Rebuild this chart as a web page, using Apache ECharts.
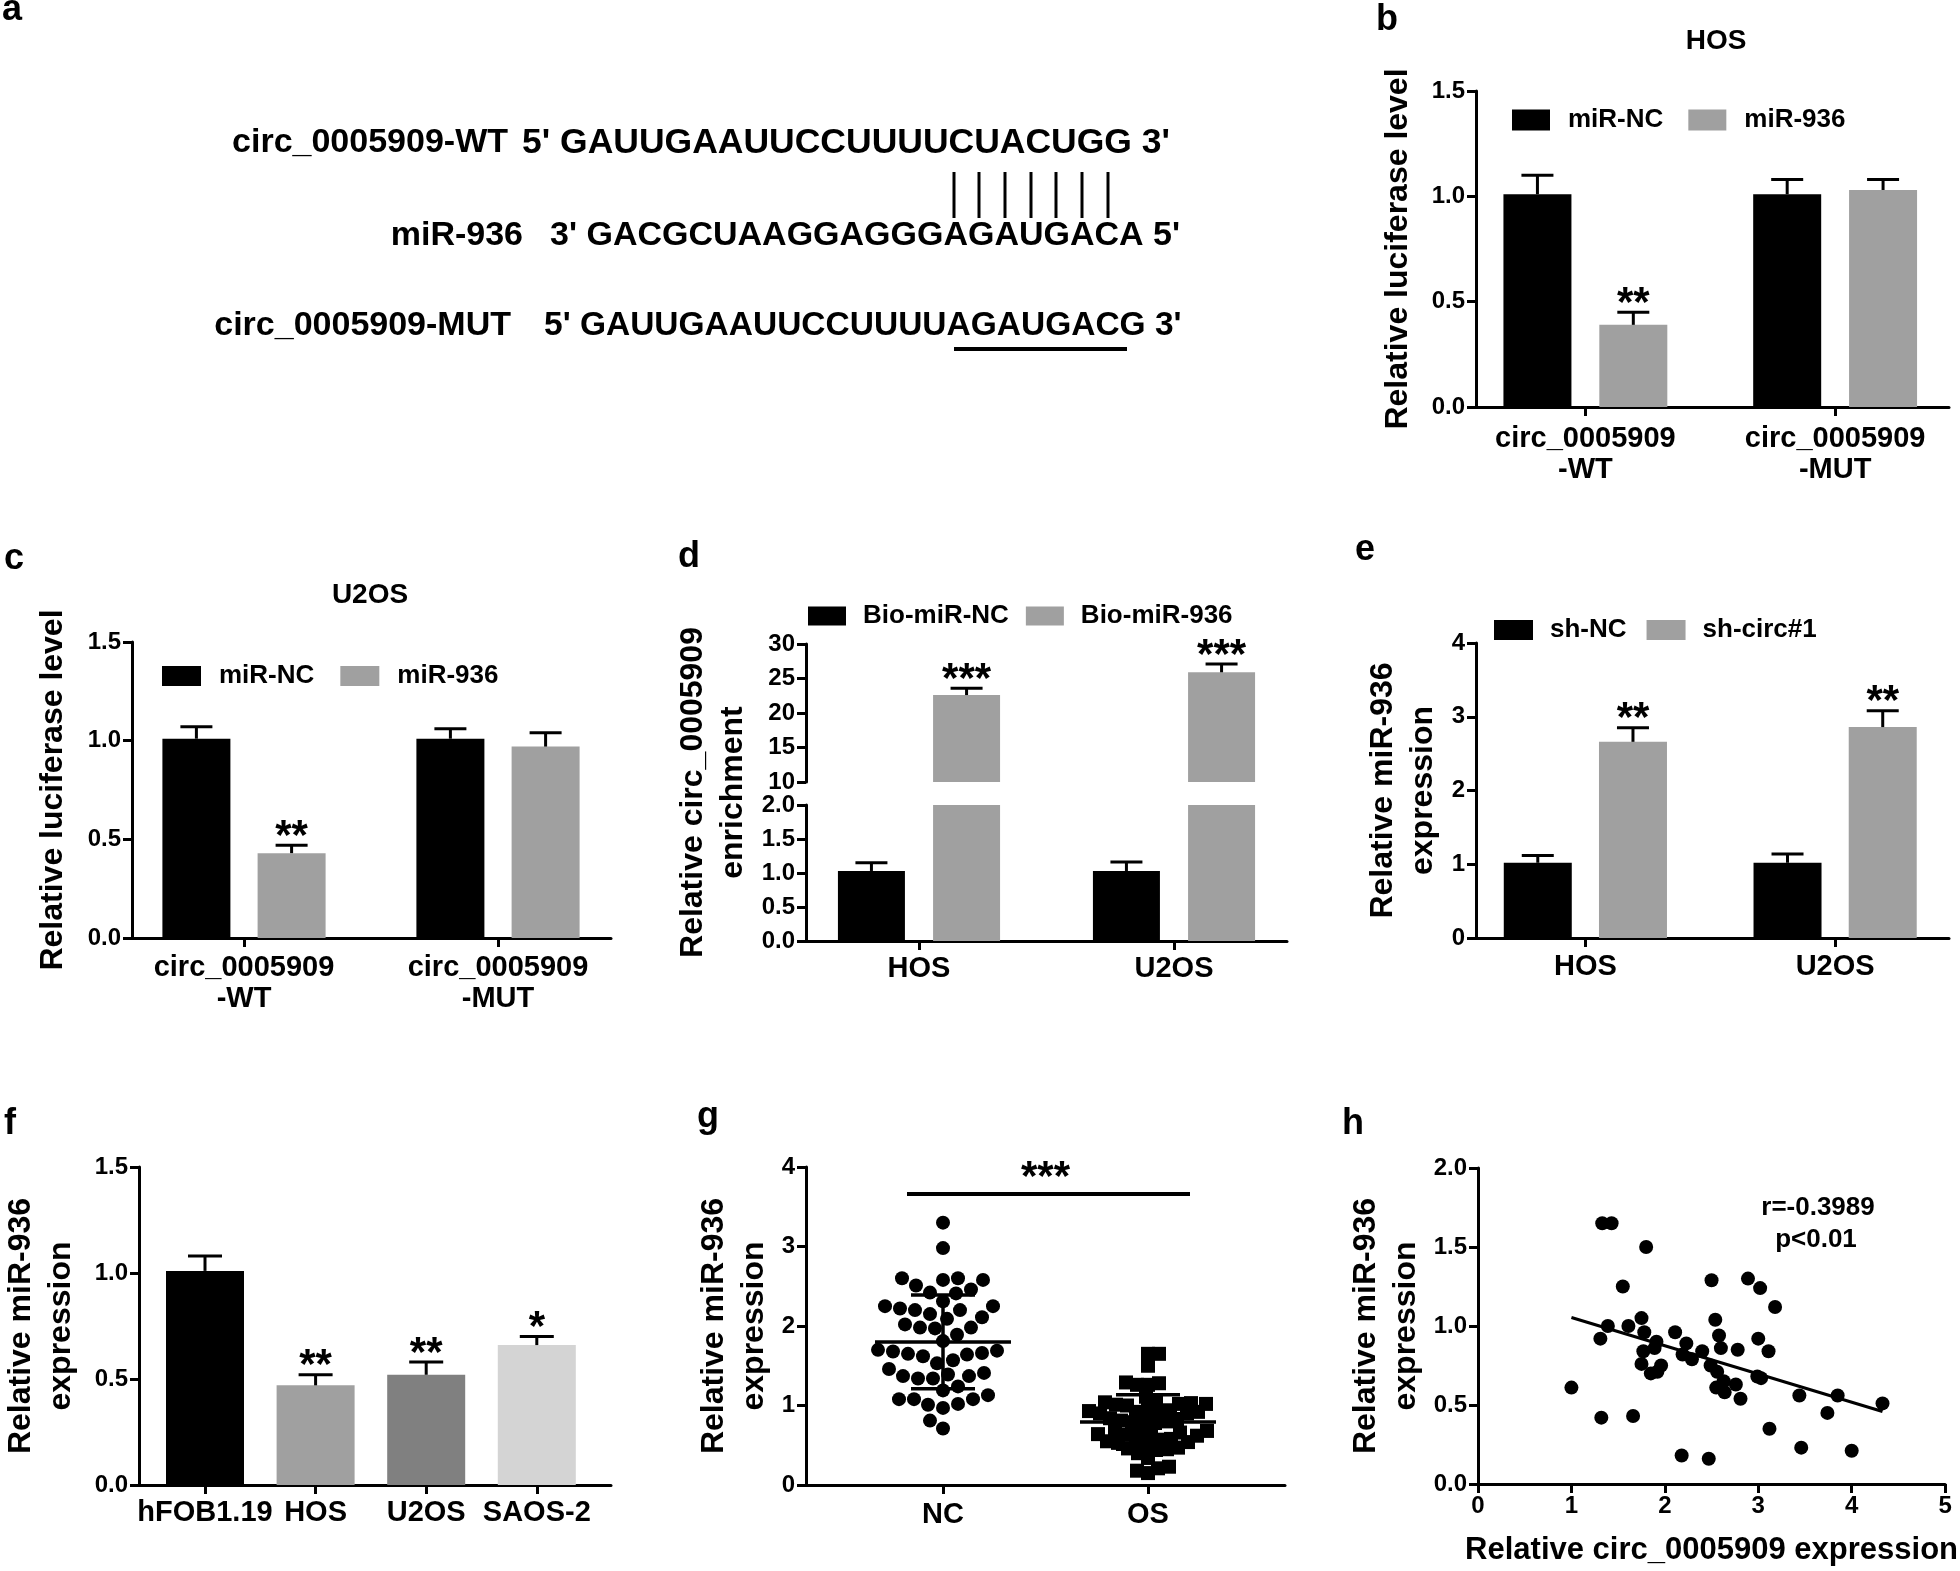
<!DOCTYPE html>
<html><head><meta charset="utf-8">
<script src="https://cdn.jsdelivr.net/npm/echarts@6/dist/echarts.min.js"></script>
<style>html,body{margin:0;padding:0;background:#fff}#c{width:1960px;height:1571px}</style>
</head><body><div id="c"></div>
<script>
// ================= DATA =================
// panel a
const seqNames = ['circ_0005909-WT', 'miR-936', 'circ_0005909-MUT'];
const seqStrings = ["5' GAUUGAAUUCCUUUUCUACUGG 3'", "3' GACGCUAAGGAGGGAGAUGACA 5'", "5' GAUUGAAUUCCUUUUAGAUGACG 3'"];
// panel b (HOS luciferase)
const bCats = ['circ_0005909\n-WT', 'circ_0005909\n-MUT'];
const bNC = [1.01, 1.01], bNCerr = [0.09, 0.07];
const b936 = [0.39, 1.03], b936err = [0.06, 0.05];
const bStars = ['**', ''];
// panel c (U2OS luciferase)
const cCats = ['circ_0005909\n-WT', 'circ_0005909\n-MUT'];
const cNC = [1.01, 1.01], cNCerr = [0.06, 0.05];
const c936 = [0.43, 0.97], c936err = [0.04, 0.07];
const cStars = ['**', ''];
// panel d (pull-down)
const dCats = ['HOS', 'U2OS'];
const dNC = [1.03, 1.03], dNCerr = [0.12, 0.13];
const d936 = [22.6, 25.9], d936err = [1.0, 1.2];
const dStars = ['***', '***'];
// panel e
const eCats = ['HOS', 'U2OS'];
const eNC = [1.02, 1.02], eNCerr = [0.10, 0.12];
const eSh = [2.66, 2.86], eSherr = [0.19, 0.22];
const eStars = ['**', '**'];
// panel f
const fCats = ['hFOB1.19', 'HOS', 'U2OS', 'SAOS-2'];
const fVals = [1.01, 0.47, 0.52, 0.66];
const fErr = [0.07, 0.05, 0.06, 0.04];
const fStars = ['', '**', '**', '*'];
// panel g
const gCats = ['NC', 'OS'];
const gNC = [3.30, 2.98, 2.60, 2.58, 2.58, 2.60, 2.51, 2.46, 2.42, 2.41, 2.31, 2.25, 2.22, 2.20, 2.25, 2.20,
  2.15, 2.09, 2.11, 1.98, 1.97, 1.98, 2.02, 1.89, 1.81, 1.69, 1.66, 1.64, 1.57, 1.53, 1.62, 1.65, 1.68, 1.70,
  1.41, 1.37, 1.34, 1.34, 1.37, 1.39, 1.46, 1.24, 1.19, 1.08, 1.08, 1.01, 0.97, 1.02, 1.08, 1.13, 0.81, 0.71];
const gOS = [1.65, 1.65, 1.50, 1.28, 1.26, 1.26, 1.29, 1.11,
  1.04, 1.03, 1.02, 1.01, 1.00, 1.02, 1.05,
  0.94, 0.92, 0.91, 0.90, 0.90, 0.92, 0.93, 0.95,
  0.84, 0.82, 0.80, 0.78, 0.79, 0.81, 0.83,
  0.68, 0.66, 0.64, 0.62, 0.63, 0.65, 0.67, 0.69,
  0.58, 0.56, 0.54, 0.52, 0.53, 0.55, 0.57,
  0.47, 0.45, 0.44, 0.46, 0.40, 0.34, 0.21, 0.15, 0.18, 0.23];
const gSigY = 3.66, gSigStars = '***';
// panel h
const hX = [1.00,1.31,1.33,1.43,1.39,1.32,1.55,1.61,1.66,1.80,1.75,1.78,1.77,1.75,1.91,1.89,1.85,1.92,1.96,2.11,
  2.23,2.19,2.29,2.40,2.18,2.47,2.50,2.54,2.49,2.58,2.60,2.56,2.55,2.63,2.64,2.78,2.76,2.81,2.89,3.02,
  3.00,2.99,3.03,3.11,3.18,3.12,3.44,3.46,3.74,3.85,4.00,4.33];
const hY = [0.61,0.92,1.65,1.65,1.00,0.42,1.25,1.00,0.43,1.50,1.05,0.96,0.84,0.76,0.90,0.86,0.70,0.71,0.75,0.96,
  0.89,0.82,0.79,0.84,0.18,0.16,1.29,1.04,0.75,0.94,0.86,0.71,0.61,0.65,0.58,0.85,0.63,0.54,1.30,1.24,
  0.92,0.68,0.67,0.84,1.12,0.35,0.56,0.23,0.45,0.56,0.21,0.51];
const hR = 'r=-0.3989', hP = 'p<0.01';

// ================= STYLE / BUILD =================
const FONT = "'Liberation Sans', Arial, Helvetica, sans-serif";
const BLACK = '#000000', GRAY = '#a0a0a0';
const fColors = ['#000000', '#a0a0a0', '#808080', '#d4d4d4'];
const f1 = v => v.toFixed(1), f0 = v => String(Math.round(v));

const grids = [], xs = [], ys = [], series = [], legends = [], gfx = [];
function G(left, top, width, height) { grids.push({left, top, width, height, containLabel: false}); return grids.length - 1; }
function X(o) { xs.push(o); return xs.length - 1; }
function Y(o) { ys.push(o); return ys.length - 1; }
const lineSt = {color: '#000', width: 3};
function nameStyle(fs) { return {color: '#000', fontSize: fs || 32, fontWeight: 'bold', fontFamily: FONT, lineHeight: 40}; }
function yVis(g, min, max, interval, fmt, name, gap) {
  return {type: 'value', gridIndex: g, min, max, interval, position: 'left',
    axisLine: {show: true, onZero: false, lineStyle: lineSt},
    axisTick: {show: true, length: 9, lineStyle: lineSt},
    axisLabel: {color: '#000', fontSize: 24, fontWeight: 'bold', fontFamily: FONT, margin: 11, formatter: fmt},
    splitLine: {show: false},
    name: name || '', nameLocation: 'middle', nameGap: gap || 0, nameRotate: 90, nameTextStyle: nameStyle()};
}
function yHid(g, min, max) { return {type: 'value', gridIndex: g, min, max, show: false}; }
function xLine(g) {
  return {type: 'value', gridIndex: g, min: 0, max: 1, position: 'bottom', axisLine: {show: true, onZero: false, lineStyle: lineSt},
    axisTick: {show: false}, axisLabel: {show: false}, splitLine: {show: false}};
}
function xHid(g) { return {type: 'value', gridIndex: g, min: 0, max: 1, show: false}; }
function xCat(g, data, fs, margin, lh) {
  return {type: 'category', gridIndex: g, data, position: 'bottom', axisLine: {show: false, onZero: false},
    axisTick: {show: true, alignWithLabel: true, length: 9, lineStyle: lineSt},
    axisLabel: {color: '#000', fontSize: fs, fontWeight: 'bold', fontFamily: FONT, margin, lineHeight: lh, interval: 0},
    splitLine: {show: false}};
}
function bar(name, xi, yi, data, color, w, gap) {
  return {type: 'bar', name, xAxisIndex: xi, yAxisIndex: yi, data, barWidth: w, barGap: gap,
    itemStyle: {color}, silent: true, clip: true};
}
function errS(xi, yi, means, errs, sIdx, nS, barW, gapR, stars, capHalf, keep) {
  const data = [];
  means.forEach((m, i) => { if (!keep || keep(m)) data.push([i, m, errs[i], i]); });
  return {type: 'custom', xAxisIndex: xi, yAxisIndex: yi, silent: true, z: 5, clip: false, data,
    renderItem(params, api) {
      const i = api.value(0), m = api.value(1), e = api.value(2), k = api.value(3);
      const base = api.coord([i, m]), top = api.coord([i, m + e]);
      const x = base[0] + (sIdx - (nS - 1) / 2) * barW * (1 + gapR);
      const ch = [
        {type: 'line', shape: {x1: x, y1: base[1], x2: x, y2: top[1]}, style: {stroke: '#000', lineWidth: 3}},
        {type: 'line', shape: {x1: x - capHalf, y1: top[1], x2: x + capHalf, y2: top[1]}, style: {stroke: '#000', lineWidth: 3}}
      ];
      const st = stars && stars[k];
      if (st) ch.push({type: 'text', x: x, y: top[1] - 8, style: {text: st, fill: '#000', font: 'bold 42px ' + FONT,
        align: 'center', verticalAlign: 'middle', textAlign: 'center', textVerticalAlign: 'middle'}});
      return {type: 'group', children: ch};
    }};
}
function leg(left, top, w, h, gap, pad, data) {
  return {left, top, padding: 0, itemWidth: w, itemHeight: h, itemGap: gap, icon: 'rect', data, selectedMode: false,
    textStyle: {color: '#000', fontSize: 26, fontWeight: 'bold', fontFamily: FONT, padding: [0, 0, 0, pad], lineHeight: h}};
}
function T(x, y, text, size, align) {
  gfx.push({type: 'text', x, y, silent: true, style: {text, fill: '#000', font: 'bold ' + size + 'px ' + FONT,
    align: align || 'left', verticalAlign: 'middle', textAlign: align || 'left', textVerticalAlign: 'middle'}});
}
function R(x, y, w, h) { gfx.push({type: 'rect', silent: true, shape: {x, y, width: w, height: h}, style: {fill: '#000'}}); }

// ---- panel letters & titles
[['a', 2, 10], ['b', 1376, 20], ['c', 4, 559], ['d', 678, 557], ['e', 1355, 550], ['f', 4, 1124], ['g', 697, 1117], ['h', 1342, 1124]]
  .forEach(l => T(l[1], l[2], l[0], 36, 'left'));
T(1716, 41, 'HOS', 28, 'center');
T(370, 595, 'U2OS', 28, 'center');

// ---- panel a
const aRowsY = [143, 236, 326];
const aLabelRight = [508, 523, 511];
const aSeqLeft = [522, 550, 544];
const aSeqSize = [35.5, 34, 33.5];
seqNames.forEach((s, i) => { T(aLabelRight[i], aRowsY[i], s, 34, 'right'); T(aSeqLeft[i], aRowsY[i], seqStrings[i], aSeqSize[i], 'left'); });
[954, 979, 1005, 1031, 1056, 1082, 1108].forEach(x => R(x - 1.5, 172, 3, 46));
R(954, 347, 173, 4);

// ---- panel b
{
  const ga = G(1476, 91, 473, 316); X(xLine(ga)); Y(yVis(ga, 0, 1.5, 0.5, f1, 'Relative luciferase level', 58));
  const gb = G(1460.5, 91, 510, 316);
  const xi = X(xCat(gb, bCats, 29, 16, 31)), yi = Y(yHid(gb, 0, 1.5));
  series.push(bar('miR-NC', xi, yi, bNC, BLACK, 68, '41%'), bar('miR-936', xi, yi, b936, GRAY, 68, '41%'));
  series.push(errS(xi, yi, bNC, bNCerr, 0, 2, 68, 0.41, null, 16), errS(xi, yi, b936, b936err, 1, 2, 68, 0.41, bStars, 16));
  legends.push(leg(1512, 107, 38, 21, 25, 13, ['miR-NC', 'miR-936']));
}
// ---- panel c
{
  const ga = G(132, 642, 479, 296); X(xLine(ga)); Y(yVis(ga, 0, 1.5, 0.5, f1, 'Relative luciferase level', 59));
  const gb = G(117, 642, 508, 296);
  const xi = X(xCat(gb, cCats, 29, 14, 31)), yi = Y(yHid(gb, 0, 1.5));
  series.push(bar('miR-NC', xi, yi, cNC, BLACK, 68, '40%'), bar('miR-936', xi, yi, c936, GRAY, 68, '40%'));
  series.push(errS(xi, yi, cNC, cNCerr, 0, 2, 68, 0.40, null, 16), errS(xi, yi, c936, c936err, 1, 2, 68, 0.40, cStars, 16));
  legends.push(leg(162, 663, 39, 20, 26, 13, ['miR-NC', 'miR-936']));
}
// ---- panel d (broken axis)
{
  const gf = G(806, 644, 481, 297); X(xLine(gf));
  Y({type: 'value', gridIndex: gf, min: 0, max: 1, axisLine: {show: false}, axisTick: {show: false}, axisLabel: {show: false},
    splitLine: {show: false}, name: 'Relative circ_0005909\nenrichment', nameLocation: 'middle', nameGap: 53, nameRotate: 90, nameTextStyle: nameStyle()});
  const gt = G(806, 644, 481, 138); X(xHid(gt)); Y(yVis(gt, 10, 30, 5, f0));
  const gl = G(806, 805, 481, 136); X(xHid(gl)); Y(yVis(gl, 0, 2, 0.5, f1));
  const gtb = G(791.5, 644, 510, 138);
  const xt = X({type: 'category', gridIndex: gtb, data: dCats, show: false}), yt = Y(yHid(gtb, 10, 30));
  const gbb = G(791.5, 805, 510, 136);
  const xb = X(xCat(gbb, dCats, 29, 12, 31)), yb = Y(yHid(gbb, 0, 2));
  series.push(bar('Bio-miR-NC', xt, yt, dNC, BLACK, 67, '42%'), bar('Bio-miR-936', xt, yt, d936, GRAY, 67, '42%'));
  series.push(bar('Bio-miR-NC', xb, yb, dNC, BLACK, 67, '42%'), bar('Bio-miR-936', xb, yb, d936, GRAY, 67, '42%'));
  series.push(errS(xt, yt, d936, d936err, 1, 2, 67, 0.42, dStars, 16, m => m >= 10));
  series.push(errS(xb, yb, dNC, dNCerr, 0, 2, 67, 0.42, null, 16, m => m <= 2));
  legends.push(leg(808, 603, 38, 19, 17, 12, ['Bio-miR-NC', 'Bio-miR-936']));
}
// ---- panel e
{
  const ga = G(1476, 643, 473, 295); X(xLine(ga)); Y(yVis(ga, 0, 4, 1, f0, 'Relative miR-936\nexpression', 33));
  const gb = G(1460.5, 643, 510, 295);
  const xi = X(xCat(gb, eCats, 29, 13, 31)), yi = Y(yHid(gb, 0, 4));
  series.push(bar('sh-NC', xi, yi, eNC, BLACK, 68, '40%'), bar('sh-circ#1', xi, yi, eSh, GRAY, 68, '40%'));
  series.push(errS(xi, yi, eNC, eNCerr, 0, 2, 68, 0.40, null, 16), errS(xi, yi, eSh, eSherr, 1, 2, 68, 0.40, eStars, 16));
  legends.push(leg(1494, 617, 39, 20, 20, 12, ['sh-NC', 'sh-circ#1']));
}
// ---- panel f
{
  const ga = G(133, 1167, 478, 318); X(xLine(ga)); Y(yVis(ga, 0, 1.5, 0.5, f1, 'Relative miR-936\nexpression', 58));
  const gb = G(149.7, 1167, 442.4, 318);
  const xi = X(xCat(gb, fCats, 29, 12, 31)), yi = Y(yHid(gb, 0, 1.5));
  series.push({type: 'bar', xAxisIndex: xi, yAxisIndex: yi, barWidth: 78, silent: true,
    data: fVals.map((v, i) => ({value: v, itemStyle: {color: fColors[i]}}))});
  series.push(errS(xi, yi, fVals, fErr, 0, 1, 78, 0, fStars, 17));
}
// ---- panel g (beeswarm)
function swarm(vals, center, pxX, pxY, diam) {
  const order = vals.map((v, i) => i).sort((a, b) => vals[a] - vals[b]);
  const placed = [], out = new Array(vals.length);
  let flip = 1;
  order.forEach(i => {
    const yp = vals[i] * pxY;
    let found = 0;
    for (let k = 0; k < 600; k++) {
      const cand = k === 0 ? 0 : flip * (k % 2 ? 1 : -1) * Math.ceil(k / 2);
      let ok = true;
      for (const p of placed) { const dx = p[0] - cand, dy = p[1] - yp; if (dx * dx + dy * dy < diam * diam) { ok = false; break; } }
      if (ok) { found = cand; break; }
    }
    flip = -flip;
    placed.push([found, yp]);
    out[i] = [center + found / pxX, vals[i]];
  });
  return out;
}
function meanSd(a) { const m = a.reduce((s, v) => s + v, 0) / a.length; const sd = Math.sqrt(a.reduce((s, v) => s + (v - m) * (v - m), 0) / (a.length - 1)); return [m, sd]; }
{
  const ga = G(806, 1167, 479, 318); X(xLine(ga)); Y(yVis(ga, 0, 4, 1, f0, 'Relative miR-936\nexpression', 32));
  const gd = G(840.5, 1167, 410, 318);
  const xv = X({type: 'value', gridIndex: gd, min: -0.5, max: 1.5, show: false, position: 'bottom'});
  X(xCat(gd, gCats, 29, 14, 31));
  const yi = Y(yHid(gd, 0, 4));
  const pxX = 410 / 2, pxY = 318 / 4;
  series.push({type: 'scatter', xAxisIndex: xv, yAxisIndex: yi, symbol: 'circle', symbolSize: 14, itemStyle: {color: '#000', opacity: 1}, silent: true,
    data: swarm(gNC, 0, pxX, pxY, 15)});
  series.push({type: 'scatter', xAxisIndex: xv, yAxisIndex: yi, symbol: 'rect', symbolSize: 14, itemStyle: {color: '#000', opacity: 1}, silent: true,
    data: swarm(gOS, 1, pxX, pxY, 11)});
  const stats = [gNC, gOS].map((a, i) => { const s = meanSd(a); return [i, s[0], s[1]]; });
  series.push({type: 'custom', xAxisIndex: xv, yAxisIndex: yi, silent: true, z: 6, clip: false, data: stats,
    renderItem(params, api) {
      const i = api.value(0), m = api.value(1), sd = api.value(2);
      const c = api.coord([i, m]), hi = api.coord([i, m + sd]), lo = api.coord([i, m - sd]);
      const st = {stroke: '#000', lineWidth: 3.5};
      return {type: 'group', children: [
        {type: 'line', shape: {x1: c[0] - 68, y1: c[1], x2: c[0] + 68, y2: c[1]}, style: st},
        {type: 'line', shape: {x1: c[0], y1: hi[1], x2: c[0], y2: lo[1]}, style: st},
        {type: 'line', shape: {x1: c[0] - 32, y1: hi[1], x2: c[0] + 32, y2: hi[1]}, style: st},
        {type: 'line', shape: {x1: c[0] - 32, y1: lo[1], x2: c[0] + 32, y2: lo[1]}, style: st}
      ]};
    }});
  series.push({type: 'custom', xAxisIndex: xv, yAxisIndex: yi, silent: true, z: 6, clip: false, data: [[0, 1, gSigY]],
    renderItem(params, api) {
      const p0 = api.coord([api.value(0), api.value(2)]), p1 = api.coord([api.value(1), api.value(2)]);
      return {type: 'group', children: [
        {type: 'line', shape: {x1: p0[0] - 36, y1: p0[1], x2: p1[0] + 42, y2: p1[1]}, style: {stroke: '#000', lineWidth: 4}},
        {type: 'text', x: (p0[0] + p1[0]) / 2, y: p0[1] - 16, style: {text: gSigStars, fill: '#000', font: 'bold 42px ' + FONT,
          align: 'center', verticalAlign: 'middle', textAlign: 'center', textVerticalAlign: 'middle'}}
      ]};
    }});
}
// ---- panel h (correlation)
{
  const gh = G(1478, 1168, 478, 317);
  const xi = X({type: 'value', gridIndex: gh, min: 0, max: 5, interval: 1, position: 'bottom',
    axisLine: {show: true, onZero: false, lineStyle: lineSt}, axisTick: {show: true, length: 9, lineStyle: lineSt},
    axisLabel: {color: '#000', fontSize: 24, fontWeight: 'bold', fontFamily: FONT, margin: 10}, splitLine: {show: false},
    name: 'Relative circ_0005909 expression', nameLocation: 'middle', nameGap: 46, nameTextStyle: nameStyle(31)});
  const yi = Y(yVis(gh, 0, 2, 0.5, f1, 'Relative miR-936\nexpression', 52));
  series.push({type: 'scatter', xAxisIndex: xi, yAxisIndex: yi, symbolSize: 14, itemStyle: {color: '#000', opacity: 1}, silent: true,
    data: hX.map((x, i) => [x, hY[i]])});
  const n = hX.length, mx = hX.reduce((a, b) => a + b) / n, my = hY.reduce((a, b) => a + b) / n;
  let sxy = 0, sxx = 0; hX.forEach((x, i) => { sxy += (x - mx) * (hY[i] - my); sxx += (x - mx) * (x - mx); });
  const sl = sxy / sxx, ic = my - sl * mx, x0 = Math.min(...hX), x1 = Math.max(...hX);
  series.push({type: 'line', xAxisIndex: xi, yAxisIndex: yi, symbol: 'none', silent: true, z: 6,
    lineStyle: {color: '#000', width: 3}, data: [[x0, ic + sl * x0], [x1, ic + sl * x1]]});
  T(1818, 1208, hR, 26, 'center');
  T(1816, 1240, hP, 26, 'center');
}

const chart = echarts.init(document.getElementById('c'), null, {renderer: 'canvas', width: 1960, height: 1571});
chart.setOption({
  backgroundColor: '#ffffff', animation: false,
  textStyle: {fontFamily: FONT, color: '#000'},
  grid: grids, xAxis: xs, yAxis: ys, legend: legends, series,
  graphic: {elements: gfx}
});
</script></body></html>
